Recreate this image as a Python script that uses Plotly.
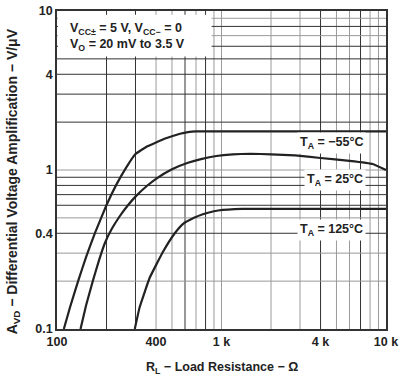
import math
import plotly.graph_objects as go

# ---- data ----
r_m55 = [110, 120, 135, 150, 170, 200, 230, 265, 300, 350, 400, 450, 500, 560, 625, 700, 10000]
a_m55 = [0.100, 0.137, 0.203, 0.282, 0.401, 0.602, 0.812, 1.047, 1.26, 1.40, 1.49, 1.57, 1.63, 1.69, 1.73, 1.75, 1.75]

r_25 = [139, 150, 165, 180, 195, 215, 240, 270, 300, 350, 400, 500, 625, 750, 930, 1170, 1500, 2000, 2800, 4000, 6000, 8300, 10000]
a_25 = [0.100, 0.14, 0.20, 0.27, 0.345, 0.425, 0.51, 0.60, 0.68, 0.79, 0.88, 1.01, 1.11, 1.17, 1.225, 1.255, 1.265, 1.255, 1.235, 1.19, 1.14, 1.09, 1.00]

r_125 = [297, 318, 366, 441, 520, 582, 680, 770, 900, 1018, 1200, 1480, 10000]
a_125 = [0.10, 0.137, 0.21, 0.306, 0.40, 0.457, 0.50, 0.527, 0.55, 0.561, 0.568, 0.57, 0.57]

labels = ["T<sub>A</sub> = −55°C", "T<sub>A</sub> = 25°C", "T<sub>A</sub> = 125°C"]
label_r = [7600, 7600, 7600]
label_a = [1.48, 0.86, 0.42]

x_tickvals = [100, 400, 1000, 4000, 10000]
x_ticktext = ["100", "400", "1 k", "4 k", "10 k"]
y_tickvals = [0.1, 0.4, 1, 4, 10]
y_ticktext = ["0.1", "0.4", "1", "4", "10"]

x_grid_dark = [200, 300, 600, 800, 4000, 7000]
x_grid_gray = [400, 500, 700, 900, 1000, 2000, 3000, 5000, 6000, 8000, 9000]
y_grid_dark = [0.4, 0.6, 0.7, 0.8, 0.9, 2, 3, 4, 5, 6, 8]
y_grid_gray = [0.2, 0.3, 0.5, 1, 7, 9]

FONT = "Liberation Sans"
INK = "#222222"

fig = go.Figure()
for xs, ys in [(r_m55, a_m55), (r_25, a_25), (r_125, a_125)]:
    fig.add_trace(go.Scatter(x=xs, y=ys, mode="lines",
                             line=dict(color=INK, width=2.2, shape="spline", smoothing=0.3),
                             showlegend=False, hoverinfo="skip"))

shapes = []
for v in x_grid_gray:
    shapes.append(dict(type="line", xref="x", yref="paper", x0=v, x1=v, y0=0, y1=1,
                       line=dict(color="#9a9a9a", width=1), layer="below"))
for v in x_grid_dark:
    shapes.append(dict(type="line", xref="x", yref="paper", x0=v, x1=v, y0=0, y1=1,
                       line=dict(color="#333333", width=1), layer="below"))
for v in y_grid_gray:
    shapes.append(dict(type="line", xref="paper", yref="y", x0=0, x1=1, y0=v, y1=v,
                       line=dict(color="#9a9a9a", width=1), layer="below"))
for v in y_grid_dark:
    shapes.append(dict(type="line", xref="paper", yref="y", x0=0, x1=1, y0=v, y1=v,
                       line=dict(color="#333333", width=1), layer="below"))
# white panel behind the conditions text
shapes.append(dict(type="rect", xref="paper", yref="paper", x0=0.003, x1=0.47, y0=0.857, y1=0.988,
                   fillcolor="white", line=dict(width=0), layer="below"))
fig.update_layout(shapes=shapes)

bold = dict(family=FONT, size=12.5, color=INK, weight="bold")

fig.add_annotation(xref="paper", yref="paper", x=0.033, y=0.975, xanchor="left", yanchor="top",
                   align="left", showarrow=False, font=bold,
                   text="V<sub>CC±</sub> = 5 V, V<sub>CC−</sub> = 0<br>V<sub>O</sub> = 20 mV to 3.5 V")

for txt, xv, yv in zip(labels, label_r, label_a):
    fig.add_annotation(x=math.log10(xv), y=math.log10(yv), xref="x", yref="y",
                       xanchor="right", yanchor="middle",
                       text=txt, showarrow=False, font=bold, bgcolor="white", borderpad=2)

fig.add_annotation(xref="paper", yref="paper", x=-0.135, y=0.463, xanchor="center", yanchor="middle",
                   textangle=-90, showarrow=False, font=dict(bold, size=14),
                   text="A<sub>VD</sub> − Differential Voltage Amplification − V/μV")
fig.add_annotation(xref="paper", yref="paper", x=0.5, y=-0.09, xanchor="center", yanchor="top",
                   showarrow=False, font=bold,
                   text="R<sub>L</sub> − Load Resistance − Ω")

fig.update_xaxes(type="log", range=[2, 4], tickvals=x_tickvals, ticktext=x_ticktext,
                 showgrid=False, zeroline=False, showline=True, mirror=True,
                 linecolor="#333333", linewidth=1.5, ticks="", tickfont=bold)
fig.update_yaxes(type="log", range=[-1, 1], tickvals=y_tickvals, ticktext=y_ticktext,
                 showgrid=False, zeroline=False, showline=True, mirror=True,
                 linecolor="#333333", linewidth=1.5, ticks="", tickfont=bold,
                 ticklabeloverflow="allow")

fig.update_layout(width=402, height=376, margin=dict(l=57, r=15, t=4, b=47),
                  paper_bgcolor="white", plot_bgcolor="white", font=dict(family=FONT))

fig.write_html("out.html", config={"displayModeBar": False},
               post_script="document.body.style.margin='0';document.body.style.padding='0';")
